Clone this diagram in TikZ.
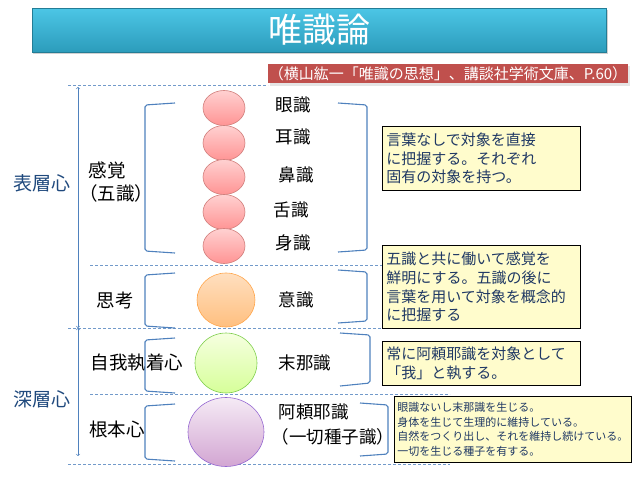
\documentclass[tikz,border=0pt]{standalone}
\usepackage{fontspec}
\setmainfont{Noto Sans CJK JP}
\usetikzlibrary{shapes.geometric}
\definecolor{lineblue}{HTML}{4F81BD}
\definecolor{navy}{HTML}{1F497D}
\definecolor{notetext}{HTML}{1F3864}
\definecolor{sourcered}{HTML}{C0504D}
\definecolor{titletop}{HTML}{4CC6E6}
\definecolor{titlebot}{HTML}{2C9CBB}
\newcommand{\fs}[2]{\fontsize{#1}{#2}\selectfont}
\begin{document}
\begin{tikzpicture}[x=1pt,y=-1pt,
  dashline/.style={lineblue!80, dashed, line width=0.7pt, dash pattern=on 3pt off 2pt},
  bracketline/.style={lineblue, line width=1.1pt, rounded corners=2pt},
  ball/.style={ellipse, inner sep=0pt, line width=0.6pt},
  layerlabel/.style={text=navy, font=\fs{19}{22}},
  leftlabel/.style={font=\fs{18.5}{21}},
  sense/.style={font=\fs{17.5}{20}, anchor=west},
  note/.style={draw=black, fill=yellow!20, line width=0.8pt, text=notetext,
    align=left, anchor=north west, inner sep=4pt, font=\fs{15}{18.8}}
]
\useasboundingbox (0,0) rectangle (638,479);

% title
\fill[black!18] (33,10) rectangle (608,54);
\node[draw=titlebot!80!black, top color=titletop, bottom color=titlebot,
  minimum width=574pt, minimum height=44pt, text=white, font=\fs{34}{38}] (title) at (319,30) {唯識論};
\fill[black!10] (270,66) rectangle (630,86);
\node[fill=sourcered, minimum width=360pt, minimum height=19pt, inner sep=0pt,
  text=white, font=\fs{15}{18}] (source) at (448,73.5) {（横山紘一「唯識の思想」、講談社学術文庫、P.60）};

% dashed layer lines
\draw[dashline] (68,85) -- (268,85);
\draw[dashline] (90,265) -- (382,265);
\draw[dashline] (68,328) -- (382,328);
\draw[dashline] (90,394) -- (450,394);
\draw[dashline] (68,464) -- (450,464);

% layer arrows
\coordinate (top) at (78,87);
\coordinate (mid) at (78,328);
\coordinate (bot) at (78,456);
\draw[<->, lineblue, line width=0.6pt] (mid) -- (top);
\draw[<->, lineblue, line width=0.6pt] (mid) -- (bot);
\node[layerlabel] (surface) at (42,183) {表層心};
\node[layerlabel] (deep) at (42,399) {深層心};

% left labels
\node[leftlabel] (sensation) at (107,170) {感覚};
\node[leftlabel] (five) at (116,193) {（五識）};
\node[leftlabel] (thought) at (115,300) {思考};
\node[leftlabel] (ego) at (137,363) {自我執着心};
\node[leftlabel] (root) at (117,429) {根本心};

% brackets
\draw[bracketline] (175,103) -- (145,105) -- (145,251) -- (175,253);
\draw[bracketline] (175,273) -- (145,275) -- (145,326) -- (175,328);
\draw[bracketline] (175,338) -- (145,340) -- (145,391) -- (175,393);
\draw[bracketline] (175,404) -- (145,406) -- (145,459) -- (175,461);
\draw[bracketline] (338,103) -- (367,105) -- (367,250) -- (338,252);
\draw[bracketline] (338,270) -- (367,272) -- (367,321) -- (338,323);
\draw[bracketline] (340,333) -- (370,335) -- (370,383) -- (340,386);
\draw[bracketline] (360,403) -- (388,405) -- (388,454) -- (360,456);

% consciousness balls
\foreach \y/\nm in {108/eye, 143/ear, 177/nose, 212/tongue, 246/body}
  \node[ball, draw=sourcered!75, top color=red!18, bottom color=red!42,
    minimum width=42pt, minimum height=35pt] (\nm) at (224,\y) {};
\node[ball, draw=orange!70, top color=orange!25, bottom color=orange!50,
  minimum width=58pt, minimum height=54pt] (mind) at (226,300) {};
\node[ball, draw=green!45!olive!70, top color=green!30!yellow!12, bottom color=green!40!yellow!40,
  minimum width=62pt, minimum height=60pt] (manas) at (226,363) {};
\node[ball, draw=violet!60!blue!60, top color=violet!8, bottom color=violet!35,
  minimum width=76pt, minimum height=69pt] (alaya) at (226,432) {};

% names
\node[sense] at (272,105) {眼識};
\node[sense] at (272,137) {耳識};
\node[sense] at (275,175) {鼻識};
\node[sense] at (270,210) {舌識};
\node[sense] at (272,243) {身識};
\node[sense] at (275,300) {意識};
\node[sense] at (275,363) {末那識};
\node[sense] at (275,412) {阿頼耶識};
\node[sense] at (268,437) {（一切種子識）};

% notes
\node[note, text width=190pt, minimum height=64pt] (note1) at (382,126)
  {言葉なしで対象を直接\\に把握する。それぞれ\\固有の対象を持つ。};
\node[note, text width=190pt, minimum height=83pt] (note2) at (382,245)
  {五識と共に働いて感覚を\\鮮明にする。五識の後に\\言葉を用いて対象を概念的\\に把握する};
\node[note, text width=190pt, minimum height=44pt, inner ysep=2pt] (note3) at (382,341)
  {常に阿頼耶識を対象として\\「我」と執する。};
\node[note, text width=231pt, minimum height=66pt, inner xsep=3pt, inner ysep=3pt,
  font=\fs{11}{14.8}] (note4) at (394,396)
  {眼識ないし末那識を生じる。\\身体を生じて生理的に維持している。\\自然をつくり出し、それを維持し続けている。\\一切を生じる種子を有する。};
\end{tikzpicture}
\end{document}
